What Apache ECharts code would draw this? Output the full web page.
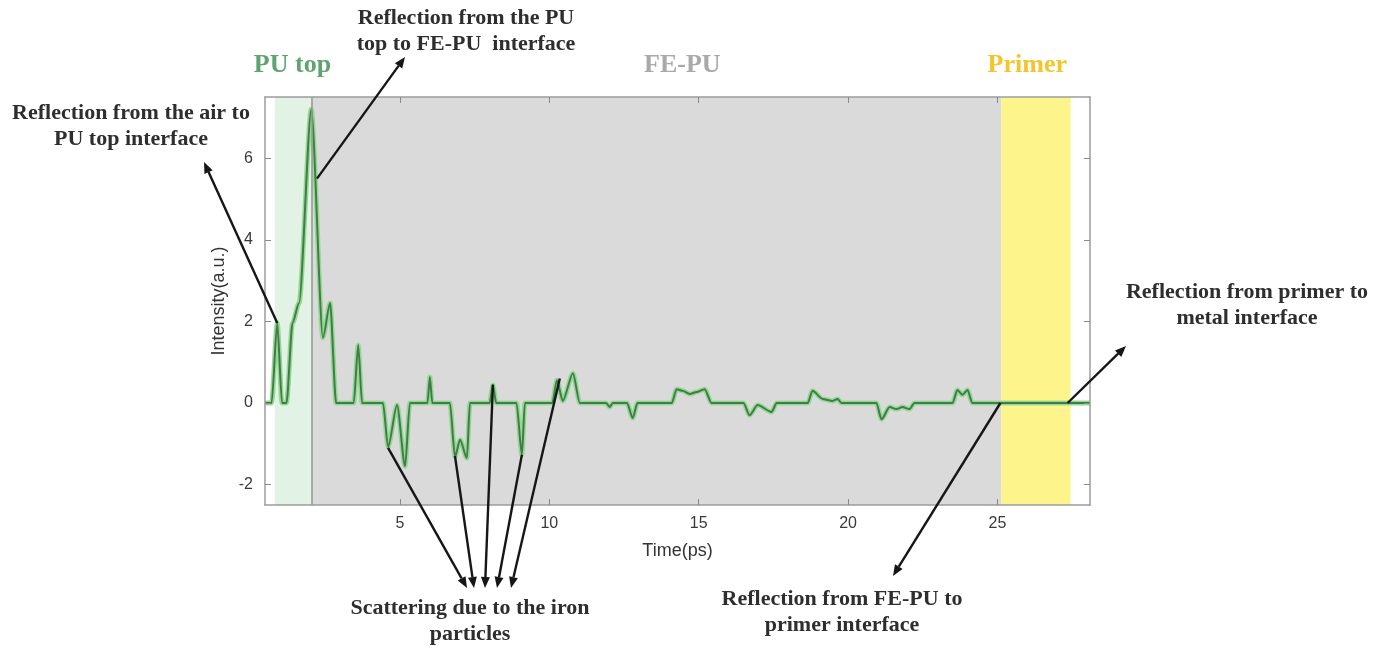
<!DOCTYPE html>
<html>
<head>
<meta charset="utf-8">
<script src="https://cdn.jsdelivr.net/npm/echarts@6/dist/echarts.min.js"></script>
<style>
  html, body { margin: 0; padding: 0; background: #fff; }
  #chart { width: 1373px; height: 650px; }
</style>
</head>
<body>
<div id="chart"></div>
<script>
// signal
const timePs = [0.48, 0.7, 0.89, 1.05, 1.2, 1.4, 1.62, 2.03, 2.42, 2.66, 2.86, 3.45, 3.6, 3.73,
  4.43, 4.6, 4.9, 5.17, 5.33, 5.92, 6.0, 6.08, 6.67, 6.84, 7.01, 7.24, 7.34, 8.0, 8.11, 8.22,
  8.9, 9.08, 9.18, 10.1, 10.25, 10.45, 10.79, 11.02, 11.9, 12.02, 12.12, 12.6, 12.79, 12.95,
  14.1, 14.26, 14.46, 14.7, 14.93, 15.2, 15.43, 16.5, 16.7, 16.97, 17.44, 17.61, 18.65, 18.81,
  19.15, 19.48, 19.65, 19.78, 20.95, 21.12, 21.39, 21.62, 21.82, 22.06, 22.22, 23.5, 23.66,
  23.83, 24.0, 24.16, 28.1];
const intensity = [0, 0, 1.96, 0, 0, 1.96, 2.45, 7.2, 1.6, 2.45, 0, 0, 1.42, 0,
  0, -1.08, -0.05, -1.55, 0, 0, 0.64, 0, 0, -1.32, -0.9, -1.35, 0, 0, 0.44, 0,
  0, -1.27, 0, 0, 0.56, 0.05, 0.73, 0, 0, -0.1, 0, 0, -0.37, 0,
  0, 0.34, 0.3, 0.22, 0.27, 0.34, 0, 0, -0.3, -0.05, -0.22, 0, 0, 0.3,
  0.1, 0.05, 0.1, 0, 0, -0.4, -0.1, -0.15, -0.1, -0.15, 0, 0, 0.32,
  0.2, 0.32, 0, 0];

const xTicks = [5, 10, 15, 20, 25];
const yTicks = [-2, 0, 2, 4, 6];

// layers
const layerNames = ['PU top', 'FE-PU', 'Primer'];
const layerStart = [0.81, 2.03, 25.13];
const layerEnd = [2.03, 25.13, 27.45];
const layerLabelAt = [1.4, 14.45, 26.0];

// annotations: data point the arrow starts from
const notes = [
  { text: 'Reflection from the air to\nPU top interface', anchors: [[0.89, 1.96]] },
  { text: 'Reflection from the PU\ntop to FE-PU  interface', anchors: [[2.22, 5.5]] },
  { text: 'Scattering due to the iron\nparticles',
    anchors: [[4.6, -1.1], [6.84, -1.3], [8.11, 0.45], [9.08, -1.27], [10.35, 0.6]] },
  { text: 'Reflection from FE-PU to\nprimer interface', anchors: [[25.1, 0]] },
  { text: 'Reflection from primer to\nmetal interface', anchors: [[27.35, 0]] }
];

// layout / style
const layerFill = ['#e2f2e4', '#dadada', '#fdf58c'];
const layerText = ['#5fa470', '#a9a9a9', '#f3c52a'];
const notePos = [[131, 126], [466, 31], [470, 621], [842, 612], [1247, 305]];
const noteHeads = [
  [[204, 162]],
  [[405, 57]],
  [[467, 588], [474, 588], [485, 588], [497, 588], [511, 588]],
  [[893, 576]],
  [[1126, 346]]
];

const chart = echarts.init(document.getElementById('chart'));
const pts = timePs.map((t, i) => [t, intensity[i]]);
const serifBold = { fontFamily: 'Liberation Serif', fontWeight: 'bold' };
const boxAxis = { lineStyle: { color: '#9c9c9c', width: 1.5 } };
const tickStyle = { inside: true, length: 6, lineStyle: { color: '#8a8a8a' } };

chart.setOption({
  animation: false,
  backgroundColor: '#fff',
  grid: { left: 265, right: 283, top: 97, bottom: 145 },
  xAxis: [{
    type: 'value', min: 0.48, max: 28.1, z: 5,
    name: 'Time(ps)', nameLocation: 'middle', nameGap: 37,
    nameTextStyle: { fontSize: 18, color: '#333', fontFamily: 'Liberation Sans' },
    axisLine: Object.assign({ show: true, onZero: false }, boxAxis),
    axisTick: Object.assign({ customValues: xTicks }, tickStyle),
    axisLabel: { customValues: xTicks, fontSize: 16, color: '#3a3a3a', margin: 11, fontFamily: 'Liberation Sans' },
    splitLine: { show: false }
  }, {
    type: 'value', min: 0.48, max: 28.1, position: 'top', z: 5,
    axisLine: Object.assign({ show: true, onZero: false }, boxAxis),
    axisTick: Object.assign({ customValues: xTicks }, tickStyle),
    axisLabel: { show: false }, splitLine: { show: false }
  }],
  yAxis: [{
    type: 'value', min: -2.5, max: 7.5, z: 5,
    name: 'Intensity(a.u.)', nameLocation: 'middle', nameGap: 26,
    nameTextStyle: { fontSize: 18, color: '#333', fontFamily: 'Liberation Sans' },
    axisLine: Object.assign({ show: true, onZero: false }, boxAxis),
    axisTick: Object.assign({ customValues: yTicks }, tickStyle),
    axisLabel: { customValues: yTicks, fontSize: 16, color: '#3a3a3a', margin: 12, fontFamily: 'Liberation Sans' },
    splitLine: { show: false }
  }, {
    type: 'value', min: -2.5, max: 7.5, position: 'right', z: 5,
    axisLine: Object.assign({ show: true, onZero: false }, boxAxis),
    axisTick: Object.assign({ customValues: yTicks }, tickStyle),
    axisLabel: { show: false }, splitLine: { show: false }
  }],
  series: [{
    // halo
    type: 'line', data: pts, symbol: 'none', z: 2,
    smooth: 0.25, smoothMonotone: 'x',
    lineStyle: { color: '#93d993', width: 5 },
    markArea: {
      silent: true,
      data: layerNames.map((n, i) => [
        { xAxis: layerStart[i], itemStyle: { color: layerFill[i] } },
        { xAxis: layerEnd[i] }
      ])
    },
    markLine: {
      silent: true, symbol: 'none', label: { show: false },
      lineStyle: { color: '#8f9a90', width: 1.5, type: 'solid' },
      data: [{ xAxis: layerStart[1] }]
    }
  }, {
    type: 'line', data: pts, symbol: 'none', z: 3,
    smooth: 0.25, smoothMonotone: 'x',
    lineStyle: { color: '#447a4a', width: 2 }
  }]
});

// arrows and labels
function arrow(from, to) {
  const dx = to[0] - from[0], dy = to[1] - from[1];
  const len = Math.sqrt(dx * dx + dy * dy);
  const ux = dx / len, uy = dy / len;
  const hl = 11, hw = 4.5;
  const bx = to[0] - ux * hl, by = to[1] - uy * hl;
  return [{
    type: 'line', silent: true, z: 50,
    shape: { x1: from[0], y1: from[1], x2: bx, y2: by },
    style: { stroke: '#161616', lineWidth: 2.4 }
  }, {
    type: 'polygon', silent: true, z: 50,
    shape: { points: [to, [bx - uy * hw, by + ux * hw], [bx + uy * hw, by - ux * hw]] },
    style: { fill: '#161616' }
  }];
}

const elements = [];
notes.forEach((n, i) => {
  n.anchors.forEach((a, j) => {
    const p = chart.convertToPixel({ xAxisIndex: 0, yAxisIndex: 0 }, a);
    elements.push(...arrow(p, noteHeads[i][j]));
  });
  elements.push({
    type: 'text', silent: true, z: 60,
    x: notePos[i][0], y: notePos[i][1],
    style: Object.assign({
      text: n.text, fontSize: 22, lineHeight: 26, fill: '#2e2e2e',
      align: 'center', verticalAlign: 'middle'
    }, serifBold)
  });
});
layerNames.forEach((n, i) => {
  const p = chart.convertToPixel({ xAxisIndex: 0, yAxisIndex: 0 }, [layerLabelAt[i], 0]);
  elements.push({
    type: 'text', silent: true, z: 60,
    x: p[0], y: 65,
    style: Object.assign({
      text: n, fontSize: 26, fill: layerText[i], align: 'center', verticalAlign: 'middle'
    }, serifBold)
  });
});
chart.setOption({ graphic: { elements: elements } });
</script>
</body>
</html>
